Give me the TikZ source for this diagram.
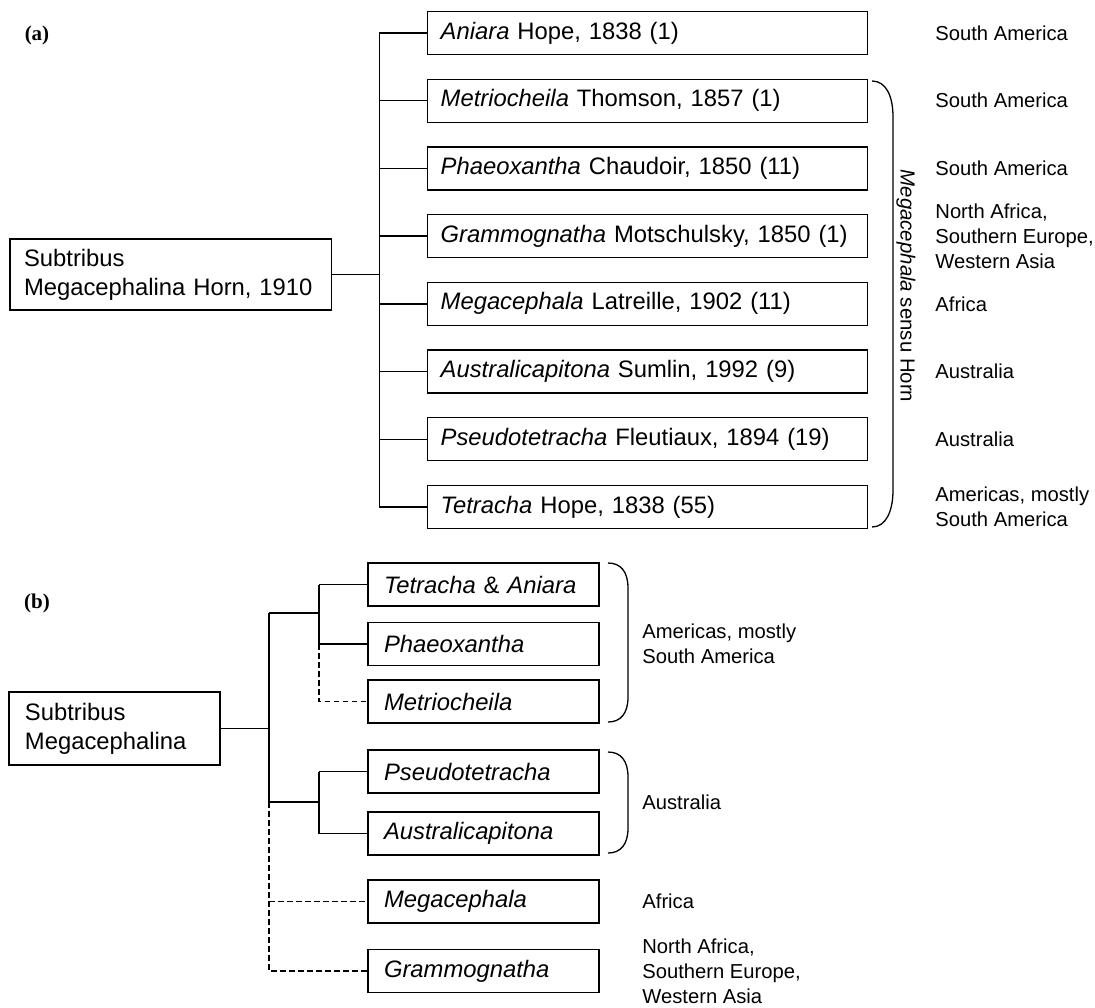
\documentclass[tikz,border=0pt]{standalone}
\usepackage{fontspec}
\setmainfont{Liberation Sans}
\newfontfamily\panelfont{Liberation Serif}
\usepackage{tikz}
\tikzset{
	taxon/.style={
		draw,
		rectangle,
		line width=0.7pt,
		minimum height=21.5pt,
		inner ysep=0pt,
		align=left,
		font=\fontsize{11.9}{14.5}\selectfont
	},
	region/.style={
		anchor=west,
		align=left,
		inner sep=0pt,
		font=\fontsize{10.1}{12.5}\selectfont
	}
}

\begin{document}
\begin{tikzpicture}[x=0.5pt,y=-0.5pt]
		\tikzset{genusA/.style={taxon,inner xsep=6.5pt,text width=207pt}}
		\tikzset{genusB/.style={taxon,inner xsep=8pt,text width=99.5pt}}
		\tikzset{edge/.style={line width=0.7pt}}
		\tikzset{uncertain/.style={edge, dash pattern=on 2.9pt off 1.6pt}}
		\tikzset{bracket/.style={line width=0.65pt}}
		
		\useasboundingbox (0,0) rectangle (1095,1007);
		
		% (a) Horn 1910
		\node(pa) at (37,35) {\panelfont\bfseries\fontsize{10.5}{12}\selectfont (a)};
		
		\node(rootA) at (170.9,274.5) [taxon,inner xsep=7pt,text width=146.85pt,minimum height=35.5pt] {Subtribus\\Megacephalina Horn, 1910};
		
		\node(gA1) at (647.7,33) [genusA] {\textit{Aniara} Hope, 1838 (1)};
		\node(gA2) at (647.7,100.7) [genusA] {\textit{Metriocheila} Thomson, 1857 (1)};
		\node(gA3) at (647.7,168.4) [genusA] {\textit{Phaeoxantha} Chaudoir, 1850 (11)};
		\node(gA4) at (647.7,236.1) [genusA] {\textit{Grammognatha} Motschulsky, 1850 (1)};
		\node(gA5) at (647.7,303.8) [genusA] {\textit{Megacephala} Latreille, 1902 (11)};
		\node(gA6) at (647.7,371.5) [genusA] {\textit{Australicapitona} Sumlin, 1992 (9)};
		\node(gA7) at (647.7,439.2) [genusA] {\textit{Pseudotetracha} Fleutiaux, 1894 (19)};
		\node(gA8) at (647.7,506.9) [genusA] {\textit{Tetracha} Hope, 1838 (55)};
		
		\node(rA1) at (935,33) [region] {South America};
		\node(rA2) at (935,100.7) [region] {South America};
		\node(rA3) at (935,168.4) [region] {South America};
		\node(rA4) at (935,236.1) [region] {North Africa,\\Southern Europe,\\Western Asia};
		\node(rA5) at (935,303.8) [region] {Africa};
		\node(rA6) at (935,371.5) [region] {Australia};
		\node(rA7) at (935,439.2) [region] {Australia};
		\node(rA8) at (935,506.9) [region] {Americas, mostly\\South America};
		
		\coordinate(spineA) at (379.3,0);
		
		\draw[edge] (rootA.east) -- (rootA.east -| spineA);
		\draw[edge] (gA1.west -| spineA) -- (gA8.west -| spineA);
		\draw[edge] (gA1.west -| spineA) -- (gA1.west);
		\draw[edge] (gA2.west -| spineA) -- (gA2.west);
		\draw[edge] (gA3.west -| spineA) -- (gA3.west);
		\draw[edge] (gA4.west -| spineA) -- (gA4.west);
		\draw[edge] (gA5.west -| spineA) -- (gA5.west);
		\draw[edge] (gA6.west -| spineA) -- (gA6.west);
		\draw[edge] (gA7.west -| spineA) -- (gA7.west);
		\draw[edge] (gA8.west -| spineA) -- (gA8.west);
		
		\draw[bracket] (872,81) .. controls (886,81) and (893,96) .. (893,117) -- (893,490) .. controls (893,511) and (886,527) .. (872,527);
		\node(sensu) at (906,286) [rotate=-90,inner sep=0pt,font=\fontsize{10.2}{12}\selectfont] {\textit{Megacephala} sensu Horn};
		
		% (b) current view
		\node(pb) at (37,603) {\panelfont\bfseries\fontsize{10.5}{12}\selectfont (b)};
		
		\node(rootB) at (114.5,728.5) [taxon,inner xsep=8pt,text width=89.5pt,minimum height=36.5pt] {Subtribus\\Megacephalina};
		
		\node(gB1) at (483.5,584.5) [genusB] {\textit{Tetracha} \& \textit{Aniara}};
		\node(gB2) at (483.5,644) [genusB] {\textit{Phaeoxantha}};
		\node(gB3) at (483.5,701.5) [genusB] {\textit{Metriocheila}};
		\node(gB4) at (483.5,771.5) [genusB] {\textit{Pseudotetracha}};
		\node(gB5) at (483.5,833.5) [genusB] {\textit{Australicapitona}};
		\node(gB6) at (483.5,901.5) [genusB] {\textit{Megacephala}};
		\node(gB7) at (483.5,971) [genusB] {\textit{Grammognatha}};
		
		\node(rB1) at (642,644) [region] {Americas, mostly\\South America};
		\node(rB2) at (642,802) [region] {Australia};
		\node(rB3) at (642,901.5) [region] {Africa};
		\node(rB4) at (642,971) [region] {North Africa,\\Southern Europe,\\Western Asia};
		
		\coordinate(amN) at (269,613);
		\coordinate(auN) at (269,802);
		\coordinate(amC) at (319,613);
		\coordinate(auC) at (319,802);
		
		\draw[edge] (rootB.east) -- (rootB.east -| amN);
		\draw[edge] (amN) -- (auN);
		\draw[edge] (amN) -- (amC);
		\draw[edge] (auN) -- (auC);
		
		\draw[edge] (gB1.west -| amC) -- (gB2.west -| amC);
		\draw[edge] (gB1.west -| amC) -- (gB1.west);
		\draw[edge] (gB2.west -| amC) -- (gB2.west);
		\draw[uncertain] (gB2.west -| amC) -- (gB3.west -| amC) -- (gB3.west);
		
		\draw[edge] (gB4.west -| auC) -- (gB5.west -| auC);
		\draw[edge] (gB4.west -| auC) -- (gB4.west);
		\draw[edge] (gB5.west -| auC) -- (gB5.west);
		
		\draw[uncertain] (auN) -- (gB7.west -| auN) -- (gB7.west);
		\draw[uncertain] (gB6.west -| auN) -- (gB6.west);
		
		\draw[bracket] (608,563) .. controls (621,563) and (628,572) .. (628,588) -- (628,697) .. controls (628,713) and (621,722) .. (608,722);
		\draw[bracket] (608,752) .. controls (621,752) and (628,761) .. (628,777) -- (628,828) .. controls (628,844) and (621,853) .. (608,853);
		\end{tikzpicture}
\end{document}
